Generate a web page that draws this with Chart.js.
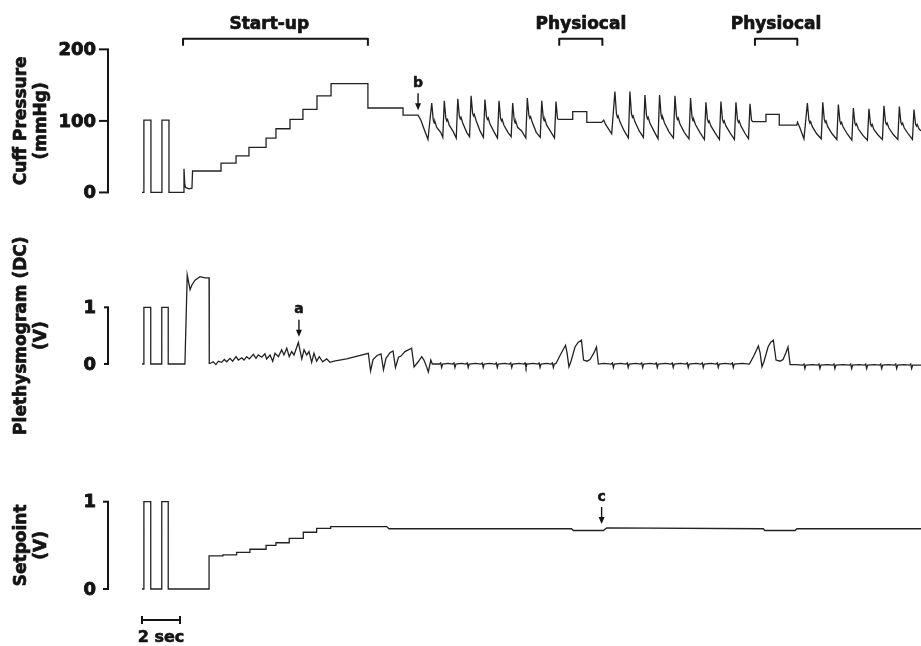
<!DOCTYPE html>
<html>
<head>
<meta charset="utf-8">
<title>Finapres start-up and Physiocal recording</title>
<script src="https://cdn.jsdelivr.net/npm/chart.js@4.4.1/dist/chart.umd.min.js"></script>
<style>
  html, body { margin: 0; padding: 0; background: #ffffff; }
  #wrap { position: relative; width: 921px; height: 646px; }
  canvas { display: block; }
</style>
</head>
<body>
<div id="wrap"><canvas id="trace" width="921" height="646"></canvas></div>
<script>
// ---- recorded signals: [time (s), value] ----
const cuffPressure = [ // mmHg
  [0,0],[0.1,0],[0.1,101],[0.47,101],[0.47,0],[1.05,0],[1.05,101],[1.42,101],[1.42,0],
  [2.18,0],[2.21,33],[2.25,12],[2.29,7],[2.47,5],[2.63,6],[2.66,30],
  [4.16,30],[4.16,41],[4.95,41],[4.95,51],[5.63,51],[5.63,63],[6.53,63],[6.53,76],
  [7.05,76],[7.05,89],[7.79,89],[7.79,102],[8.47,102],[8.47,116],[9.21,116],[9.21,135],
  [9.95,135],[9.95,152],[11.89,152],[11.89,118],[13.74,118],[13.74,108],
  [14.53,108],[14.68,101],[14.84,89],[15.05,74],
  [15.25,125],[15.33,101],[15.38,97],[15.42,99],[15.51,91],[15.72,84],
  [15.83,77],[15.91,128],[15.99,104],[16.04,100],[16.08,102],[16.17,94],[16.38,85],
  [16.54,76],[16.62,131],[16.70,107],[16.75,103],[16.79,105],[16.88,97],[17.09,84],
  [17.24,78],[17.32,135],[17.40,111],[17.45,107],[17.49,109],[17.58,101],[17.79,86],
  [17.97,77],[18.05,130],[18.13,106],[18.18,102],[18.22,104],[18.31,96],[18.52,85],
  [18.71,76],[18.79,128],[18.87,104],[18.92,100],[18.96,102],[19.05,94],[19.26,84],
  [19.43,78],[19.51,125],[19.59,101],[19.64,97],[19.68,99],[19.77,91],[19.98,86],
  [20.20,76],[20.28,132],[20.36,108],[20.41,104],[20.45,106],[20.54,98],[20.75,84],
  [20.96,77],[21.04,128],[21.12,104],[21.17,100],[21.21,102],[21.30,94],[21.51,85],
  [21.71,76],[21.79,127],[21.87,103],[21.95,102],
  [22.67,102],[22.67,113],[23.41,113],[23.41,98],[24.19,98],[24.30,101],[24.40,95],[24.72,82],
  [24.89,141],[24.97,110],[25.02,105],[25.06,107],[25.15,99],[25.38,86],[25.60,76],
  [25.68,141],[25.76,110],[25.81,105],[25.85,107],[25.94,99],[26.17,86],[26.39,77],
  [26.47,136],[26.55,108],[26.60,103],[26.64,105],[26.73,97],[26.96,85],[27.16,75],
  [27.24,136],[27.32,108],[27.37,103],[27.41,105],[27.50,97],[27.73,85],[27.97,76],
  [28.05,135],[28.13,107],[28.18,102],[28.22,104],[28.31,96],[28.54,84],[28.79,75],
  [28.87,132],[28.95,105],[29.00,100],[29.04,102],[29.13,95],[29.36,84],[29.60,74],
  [29.68,126],[29.76,102],[29.81,98],[29.85,100],[29.94,93],[30.17,83],[30.39,74],
  [30.47,127],[30.55,102],[30.60,98],[30.64,100],[30.73,93],[30.96,83],[31.18,74],
  [31.26,126],[31.34,102],[31.39,98],[31.43,100],[31.52,93],[31.75,82],[31.92,75],
  [32.00,124],[32.08,101],[32.14,99],
  [32.84,99],[32.84,109],[33.54,109],[33.54,94],[34.46,94],[34.50,98],[34.63,90],[34.84,75],
  [35.02,125],[35.10,101],[35.15,97],[35.19,99],[35.28,92],[35.51,82],[35.75,75],
  [35.83,126],[35.91,102],[35.96,98],[36.00,100],[36.09,92],[36.32,82],[36.57,74],
  [36.65,123],[36.73,100],[36.78,96],[36.82,98],[36.91,91],[37.14,81],[37.36,73],
  [37.44,118],[37.52,97],[37.57,94],[37.61,96],[37.70,89],[37.93,80],[38.18,73],
  [38.26,117],[38.34,96],[38.39,93],[38.43,95],[38.52,88],[38.75,80],[38.97,74],
  [39.05,121],[39.13,99],[39.18,95],[39.22,97],[39.31,90],[39.54,81],[39.78,74],
  [39.86,120],[39.94,98],[39.99,95],[40.03,97],[40.12,90],[40.35,81],[40.55,74],
  [40.63,116],[40.71,96],[40.76,93],[40.80,95],[40.89,89],[41.00,86]
];

const plethysmogram = [ // V (DC)
  [0,0],[0.1,0],[0.1,1],[0.46,1],[0.46,0],[1.04,0],[1.04,1],[1.38,1],[1.38,0],
  [2.26,0],[2.38,1.57],[2.53,1.31],[2.62,1.39],[2.79,1.48],[3.05,1.54],[3.32,1.52],[3.53,1.52],[3.54,0.01],
  [3.58,0.01],[3.75,0.04],[3.89,-0.01],[4.02,0.05],[4.19,0.03],[4.33,0.08],[4.46,0.04],[4.63,0.10],
  [4.77,0.05],[4.95,0.13],[5.07,0.07],[5.25,0.11],[5.37,0.07],[5.51,0.13],[5.65,0.09],[5.86,0.17],
  [6.00,0.10],[6.12,0.16],[6.30,0.12],[6.47,0.18],[6.56,0.09],[6.74,0.16],[6.88,0.05],[7.00,0.19],
  [7.18,0.13],[7.35,0.25],[7.47,0.16],[7.62,0.28],[7.75,0.13],[7.88,0.22],[8.00,0.16],[8.23,0.38],
  [8.41,0.09],[8.53,0.25],[8.67,0.16],[8.79,0.22],[8.93,0.03],[9.05,0.19],[9.19,0.05],[9.33,0.13],
  [9.51,0.04],[9.72,0.09],[9.89,0.03],[10.11,0.05],[10.77,0.09],[11.91,0.19],
  [12.03,-0.12],[12.16,0.08],[12.37,0.15],[12.58,0.18],[12.71,-0.10],[12.84,0.10],[13.05,0.20],
  [13.21,0.23],[13.34,-0.06],[13.50,0.12],[13.63,0.14],[13.84,0.22],[14.19,0.28],[14.32,-0.05],
  [14.54,0.04],[14.72,0.13],[14.84,0.07],[14.98,-0.05],[15.07,-0.14],[15.20,0.07],[15.28,0.00],
  [15.50,0.00],[15.65,0.00],[15.72,0.02],[15.77,-0.06],[15.82,0.00],[16.10,0.01],
  [16.35,0.00],[16.42,0.02],[16.47,-0.06],[16.52,0.00],[16.80,0.01],
  [17.05,0.00],[17.12,0.02],[17.17,-0.06],[17.22,0.00],[17.55,0.01],
  [17.84,0.00],[17.91,0.02],[17.96,-0.06],[18.01,0.00],[18.30,0.01],
  [18.58,0.00],[18.65,0.02],[18.70,-0.06],[18.75,0.00],[19.10,0.01],
  [19.34,0.00],[19.41,0.02],[19.46,-0.06],[19.51,0.00],[19.85,0.01],
  [20.09,0.00],[20.16,0.02],[20.21,-0.06],[20.26,0.00],[20.60,0.01],
  [20.83,0.00],[20.90,0.02],[20.95,-0.06],[21.00,0.00],[21.30,0.01],
  [21.53,0.00],[21.60,0.02],[21.65,-0.06],[21.70,0.00],
  [21.79,0.01],[22.00,0.15],[22.29,0.33],[22.37,0.20],[22.47,-0.05],[22.58,0.05],[22.79,0.30],
  [22.95,0.38],[23.13,0.42],[23.24,0.07],[23.42,0.05],[23.58,0.08],[23.79,0.20],[23.92,0.30],[24.02,0.00],
  [24.30,0.01],[24.69,0.00],[24.76,0.02],[24.81,-0.06],[24.86,0.00],[25.20,0.01],
  [25.47,0.00],[25.54,0.02],[25.59,-0.06],[25.64,0.00],[26.00,0.01],
  [26.23,0.00],[26.30,0.02],[26.35,-0.06],[26.40,0.00],[26.75,0.01],
  [27.00,0.00],[27.07,0.02],[27.12,-0.06],[27.17,0.00],[27.55,0.01],
  [27.84,0.00],[27.91,0.02],[27.96,-0.06],[28.01,0.00],[28.35,0.01],
  [28.63,0.00],[28.70,0.02],[28.75,-0.06],[28.80,0.00],[29.15,0.01],
  [29.42,0.00],[29.49,0.02],[29.54,-0.06],[29.59,0.00],[29.95,0.01],
  [30.21,0.00],[30.28,0.02],[30.33,-0.06],[30.38,0.00],[30.70,0.01],
  [31.00,0.00],[31.07,0.02],[31.12,-0.06],[31.17,0.00],[31.60,0.01],
  [31.97,0.00],[32.21,0.15],[32.44,0.32],[32.53,0.20],[32.63,-0.05],[32.74,0.05],[32.95,0.30],
  [33.08,0.38],[33.23,0.42],[33.37,0.07],[33.58,0.05],[33.74,0.08],[33.89,0.20],[34.00,0.30],[34.11,-0.01],
  [34.40,-0.01],[34.77,-0.02],[34.84,0.00],[34.89,-0.08],[34.94,-0.02],[35.30,-0.01],
  [35.56,-0.02],[35.63,0.00],[35.68,-0.08],[35.73,-0.02],[36.10,-0.01],
  [36.35,-0.02],[36.42,0.00],[36.47,-0.08],[36.52,-0.02],[36.90,-0.01],
  [37.23,-0.02],[37.30,0.00],[37.35,-0.08],[37.40,-0.02],[37.75,-0.01],
  [38.02,-0.02],[38.09,0.00],[38.14,-0.08],[38.19,-0.02],[38.55,-0.01],
  [38.81,-0.02],[38.88,0.00],[38.93,-0.08],[38.98,-0.02],[39.30,-0.01],
  [39.60,-0.02],[39.67,0.00],[39.72,-0.08],[39.77,-0.02],[40.10,-0.01],
  [40.39,-0.02],[40.46,0.00],[40.51,-0.08],[40.56,-0.02],[41.00,-0.02]
];

const setpoint = [ // V
  [0,0],[0.1,0],[0.1,1],[0.46,1],[0.46,0],[1.04,0],[1.04,1],[1.38,1],[1.38,0],
  [3.53,0],[3.53,0.38],[4.26,0.38],[4.26,0.39],[4.98,0.39],[4.98,0.42],[5.68,0.42],[5.68,0.455],
  [6.53,0.455],[6.53,0.50],[7.05,0.50],[7.05,0.53],[7.75,0.53],[7.75,0.58],[8.49,0.58],[8.49,0.65],
  [9.19,0.65],[9.19,0.695],[9.93,0.695],[9.93,0.715],[12.88,0.715],[13.00,0.69],
  [22.61,0.69],[22.70,0.67],[24.28,0.67],[24.46,0.70],[32.70,0.69],[32.78,0.67],[34.37,0.67],
  [34.47,0.69],[41.00,0.69]
];

// ---- axis ticks and titles ----
const cuffTicks = [0, 100, 200];
const plethTicks = [0, 1];
const setpointTicks = [0, 1];
const cuffTitle = ['Cuff Pressure', '(mmHg)'];
const plethTitle = ['Plethysmogram (DC)', '(V)'];
const setpointTitle = ['Setpoint', '(V)'];

// ---- event annotations (time in s, level on the cuff-pressure scale) ----
const phaseLabels = ['Start-up', 'Physiocal', 'Physiocal'];
const phaseStart = [2.16, 21.96, 32.26];
const phaseEnd = [11.89, 24.23, 34.49];
const phaseLabelTime = [6.7, 23.1, 33.37];

// arrow markers: label, time, the scale they point on, value at the arrow tip
const markerLabels = ['a', 'b', 'c'];
const markerTime = [8.26, 14.53, 24.19];
const markerAxis = ['yPleth', 'yCuff', 'ySet'];
const markerTip = [0.48, 115, 0.745];

const scaleBarSeconds = [0, 2];
const scaleBarLabel = '2 sec';

// ---- chart ----
const INK = '#141414';
const TRACE = '#222222';
const FONT = '"DejaVu Sans", "Liberation Sans", Arial, sans-serif';

const toXY = arr => arr.map(p => ({ x: p[0], y: p[1] }));

const panels = [
  { axis: 'yCuff', ticks: cuffTicks, title: cuffTitle, tickLen: 9 },
  { axis: 'yPleth', ticks: plethTicks, title: plethTitle, tickLen: 4 },
  { axis: 'ySet', ticks: setpointTicks, title: setpointTitle, tickLen: 5 }
];

// heavy lettering: fill plus a thin outline of the same ink
function heavyText(ctx, text, x, y, weight) {
  ctx.fillText(text, x, y);
  ctx.lineWidth = weight;
  ctx.lineJoin = 'round';
  ctx.strokeText(text, x, y);
}

const recordingDecor = {
  id: 'recordingDecor',
  afterDatasetsDraw(chart) {
    const { ctx, scales } = chart;
    const xs = scales.x;
    const axisX = xs.left - 34;
    ctx.save();
    ctx.strokeStyle = INK;
    ctx.fillStyle = INK;

    // bracket-style value axes with tick labels and rotated titles
    panels.forEach(p => {
      const s = scales[p.axis];
      const first = p.ticks[0], last = p.ticks[p.ticks.length - 1];
      const yTop = s.getPixelForValue(last), yBot = s.getPixelForValue(first);
      ctx.lineWidth = 2;
      ctx.beginPath();
      ctx.moveTo(axisX, yTop);
      ctx.lineTo(axisX, yBot);
      ctx.stroke();
      p.ticks.forEach(v => {
        const y = s.getPixelForValue(v);
        ctx.lineWidth = 2;
        ctx.beginPath();
        ctx.moveTo(axisX - p.tickLen, y);
        ctx.lineTo(axisX + 1, y);
        ctx.stroke();
        ctx.font = 'bold 18px ' + FONT;
        ctx.textAlign = 'right';
        ctx.textBaseline = 'middle';
        heavyText(ctx, String(v), axisX - 12, y + 1, 0.9);
      });
      const mid = (yTop + yBot) / 2;
      ctx.font = 'bold 17px ' + FONT;
      ctx.textAlign = 'center';
      ctx.textBaseline = 'middle';
      p.title.forEach((line, i) => {
        ctx.save();
        ctx.translate(22 + i * 20, mid);
        ctx.rotate(-Math.PI / 2);
        heavyText(ctx, line, 0, 0, 0.7);
        ctx.restore();
      });
    });

    // phase brackets above the cuff-pressure trace
    const yc = scales.yCuff;
    const yLine = yc.getPixelForValue(215);
    const yEnd = yc.getPixelForValue(205);
    const yText = yc.getPixelForValue(234);
    ctx.font = 'bold 17px ' + FONT;
    ctx.textAlign = 'center';
    ctx.textBaseline = 'middle';
    phaseLabels.forEach((lab, i) => {
      const x0 = xs.getPixelForValue(phaseStart[i]);
      const x1 = xs.getPixelForValue(phaseEnd[i]);
      ctx.lineWidth = 2;
      ctx.beginPath();
      ctx.moveTo(x0, yEnd);
      ctx.lineTo(x0, yLine);
      ctx.lineTo(x1, yLine);
      ctx.lineTo(x1, yEnd);
      ctx.stroke();
      heavyText(ctx, lab, xs.getPixelForValue(phaseLabelTime[i]), yText, 0.7);
    });

    // arrow markers
    ctx.font = 'bold 14px ' + FONT;
    markerLabels.forEach((lab, i) => {
      const x = xs.getPixelForValue(markerTime[i]);
      const tip = scales[markerAxis[i]].getPixelForValue(markerTip[i]);
      ctx.lineWidth = 1.4;
      ctx.beginPath();
      ctx.moveTo(x, tip - 17);
      ctx.lineTo(x, tip - 5);
      ctx.stroke();
      ctx.beginPath();
      ctx.moveTo(x - 3, tip - 7);
      ctx.lineTo(x + 3, tip - 7);
      ctx.lineTo(x, tip);
      ctx.closePath();
      ctx.fill();
      heavyText(ctx, lab, x, tip - 27, 0.5);
    });

    // time scale bar
    const ys = scales.ySet;
    const yb = ys.getPixelForValue(-0.355);
    const bx0 = xs.getPixelForValue(scaleBarSeconds[0]);
    const bx1 = xs.getPixelForValue(scaleBarSeconds[1]);
    ctx.lineWidth = 2;
    ctx.beginPath();
    ctx.moveTo(bx0, yb); ctx.lineTo(bx1, yb);
    ctx.moveTo(bx0, yb - 4); ctx.lineTo(bx0, yb + 4);
    ctx.moveTo(bx1, yb - 4); ctx.lineTo(bx1, yb + 4);
    ctx.stroke();
    ctx.font = 'bold 16px ' + FONT;
    heavyText(ctx, scaleBarLabel, (bx0 + bx1) / 2, ys.getPixelForValue(-0.56), 0.6);

    ctx.restore();
  }
};

const traceStyle = {
  borderColor: TRACE,
  borderWidth: 1.3,
  pointRadius: 0,
  pointHoverRadius: 0,
  tension: 0,
  fill: false,
  clip: false
};

new Chart(document.getElementById('trace'), {
  type: 'line',
  data: {
    datasets: [
      Object.assign({ label: 'Cuff Pressure', data: toXY(cuffPressure), yAxisID: 'yCuff' }, traceStyle),
      Object.assign({ label: 'Plethysmogram (DC)', data: toXY(plethysmogram), yAxisID: 'yPleth' }, traceStyle),
      Object.assign({ label: 'Setpoint', data: toXY(setpoint), yAxisID: 'ySet' }, traceStyle)
    ]
  },
  options: {
    responsive: false,
    devicePixelRatio: 1,
    animation: false,
    events: [],
    layout: { padding: { left: 142, right: 0, top: 0, bottom: 0 } },
    plugins: { legend: { display: false }, tooltip: { enabled: false }, title: { display: false } },
    scales: {
      x: { type: 'linear', min: 0, max: 41, display: false },
      yCuff: { type: 'linear', min: -634, max: 269, display: false },
      yPleth: { type: 'linear', min: -4.973, max: 6.42, display: false },
      ySet: { type: 'linear', min: -0.653, max: 6.747, display: false }
    }
  },
  plugins: [recordingDecor]
});
</script>
</body>
</html>
